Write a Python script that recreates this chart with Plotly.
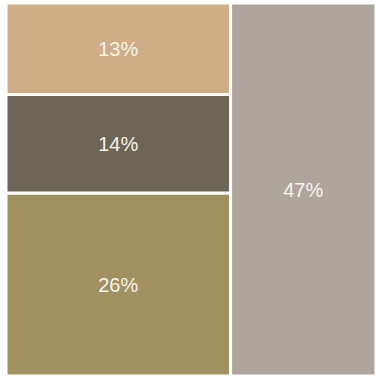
import plotly.graph_objects as go

left_labels = ["A", "B", "C"]
left_values = [13, 14, 26]
left_texts = ["13%", "14%", "26%"]
left_colors = ["#CFAE87", "#6D6555", "#A19160"]

right_labels = ["D"]
right_values = [47]
right_texts = ["47%"]
right_colors = ["#AEA69C"]

split = 0.607
font = dict(family="Liberation Sans, Arial", size=20, color="#F6F3EE")

fig = go.Figure()
fig.add_trace(go.Treemap(
    ids=["R", "L"] + left_labels,
    labels=["", ""] + left_labels,
    parents=["", "R"] + ["L"] * len(left_labels),
    values=[sum(left_values), sum(left_values)] + left_values,
    branchvalues="total",
    text=["", ""] + left_texts,
    texttemplate="%{text}",
    textposition="middle center",
    textfont=font,
    marker=dict(colors=["#FFFFFF", "#FFFFFF"] + left_colors,
                line=dict(color="white", width=[0, 0, 3, 3, 3]),
                pad=dict(t=0, l=0, r=0, b=0)),
    tiling=dict(packing="slice-dice", flip="y", pad=0),
    pathbar=dict(visible=False),
    sort=True,
    hoverinfo="skip",
    domain=dict(x=[0, split], y=[0, 1]),
))
fig.add_trace(go.Treemap(
    labels=right_labels,
    parents=[""] * len(right_labels),
    values=right_values,
    text=right_texts,
    texttemplate="%{text}",
    textposition="middle center",
    textfont=font,
    marker=dict(colors=right_colors, line=dict(color="white", width=3),
                pad=dict(t=0, l=0, r=0, b=0)),
    tiling=dict(pad=0),
    pathbar=dict(visible=False),
    hoverinfo="skip",
    domain=dict(x=[split, 1], y=[0, 1]),
))
fig.update_layout(
    width=376, height=376,
    margin=dict(l=6, r=0, t=3, b=0),
    paper_bgcolor="white",
    showlegend=False,
)
fig.write_html("out.html")
